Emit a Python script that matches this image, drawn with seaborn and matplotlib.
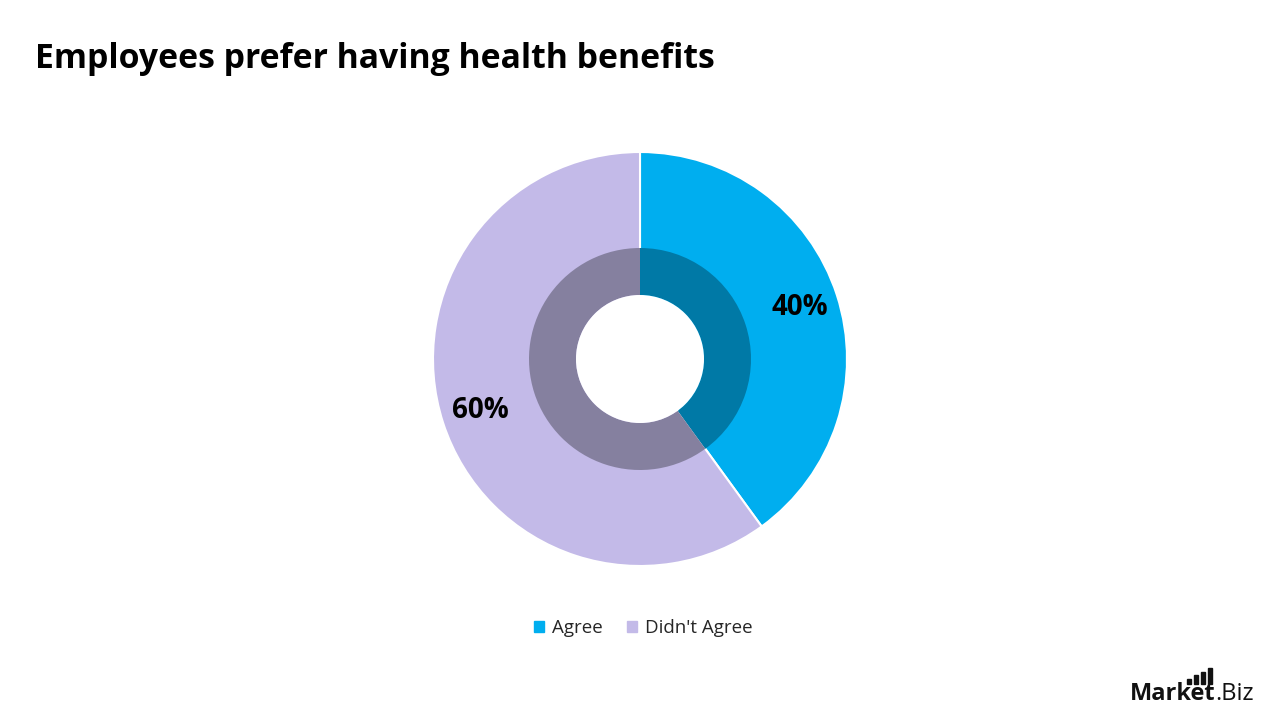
import matplotlib
matplotlib.use("Agg")
import matplotlib.pyplot as plt
import seaborn as sns
from matplotlib.patches import Rectangle, Circle

# Data
categories = ["Agree", "Didn't Agree"]
values = [40, 60]
labels = ["40%", "60%"]
outer_colors = ["#00AEEF", "#C3BAE8"]
inner_colors = ["#0079A6", "#85809F"]
title = "Employees prefer having health benefits"

sns.set_theme(style="white")
plt.rcParams['font.family'] = ['Open Sans', 'DejaVu Sans']

W, H = 1280, 720
fig = plt.figure(figsize=(12.8, 7.2), dpi=100)
fig.patch.set_facecolor("white")

cx, cy = 640, 720 - 359
R = 207
half = R * 1.2
ax = fig.add_axes([(cx - half) / W, (cy - half) / H, 2 * half / W, 2 * half / H])
ax.axis("off")

wedges, texts = ax.pie(values, colors=outer_colors, startangle=90, counterclock=False,
                       radius=1.0, labels=labels, labeldistance=0.81,
                       wedgeprops=dict(edgecolor="white", linewidth=1.5),
                       textprops=dict(fontsize=20, fontweight="bold", color="black"))
for t in texts:
    t.set_ha("center")
    t.set_va("center")

r_in = 111 / R
r_hole = 64 / R
ax.pie(values, colors=inner_colors, startangle=90, counterclock=False,
       radius=r_in, wedgeprops=dict(width=r_in - r_hole, edgecolor="none", linewidth=0))
ax.add_patch(Circle((0, 0), r_hole, facecolor="white", edgecolor="none", zorder=5))

ax.set_xlim(-1.2, 1.2)
ax.set_ylim(-1.2, 1.2)
ax.set_aspect("equal")

fig.text(35 / W, 1 - 59 / H, title, fontsize=24.3, fontweight="bold", ha="left", va="center", color="black")

handles = [Rectangle((0, 0), 1, 1, color=c) for c in outer_colors]
fig.legend(handles, categories, loc="center", bbox_to_anchor=(643 / W, 1 - 628 / H), ncol=2,
           frameon=False, fontsize=13.5, handlelength=0.55, handleheight=0.55,
           handletextpad=0.4, columnspacing=1.3)

# Logo
fig.text(1130 / W, 1 - 694 / H, "Market", fontsize=17, fontweight="bold", ha="left", va="center", color="#111111")
fig.text(1215 / W, 1 - 694 / H, ".Biz", fontsize=17, ha="left", va="center", color="#111111")
for i, h in enumerate([5, 9, 12, 16]):
    x = 1187 + i * 7
    fig.patches.append(Rectangle((x / W, (720 - 684) / H), 3.5 / W, h / H,
                                 transform=fig.transFigure, color="#111111"))

fig.savefig("out.png", dpi=100, facecolor="white")
